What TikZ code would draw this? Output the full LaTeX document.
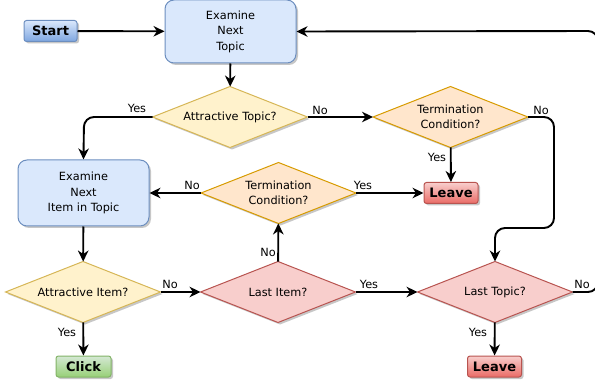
\documentclass[tikz,border=0pt]{standalone}
\usepackage{fontspec}
\setmainfont{DejaVu Sans}
\usetikzlibrary{arrows.meta,shapes.geometric,shadows}
\definecolor{blueF}{HTML}{DAE8FC}
\definecolor{blueS}{HTML}{6C8EBF}
\definecolor{blueG}{HTML}{7EA6E0}
\definecolor{yelF}{HTML}{FFF2CC}
\definecolor{yelS}{HTML}{D6B656}
\definecolor{orF}{HTML}{FFE6CC}
\definecolor{orS}{HTML}{D79B00}
\definecolor{redF}{HTML}{F8CECC}
\definecolor{redS}{HTML}{B85450}
\definecolor{redG}{HTML}{EA6B66}
\definecolor{grnF}{HTML}{D5E8D4}
\definecolor{grnS}{HTML}{82B366}
\definecolor{grnG}{HTML}{97D077}
\tikzset{
  shd/.style={drop shadow={shadow xshift=2pt,shadow yshift=-2pt,opacity=0.22,fill=black}},
  procbox/.style={shd,draw=blueS,fill=blueF,rounded corners=9pt,line width=1pt,minimum width=131pt,align=center,font=\fontsize{11.3}{15.5}\selectfont,text=black},
  dec/.style={shd,diamond,draw,line width=1pt,inner sep=0pt,outer sep=0pt,minimum width=155pt,minimum height=61pt,aspect=2.5,align=center,font=\fontsize{11.3}{15.5}\selectfont,text=black},
  decY/.style={dec,draw=yelS,fill=yelF},
  decO/.style={dec,draw=orS,fill=orF},
  decR/.style={dec,draw=redS,fill=redF},
  term/.style={shd,rounded corners=2.5pt,line width=1pt,minimum height=21pt,inner sep=0pt,font=\fontsize{13}{15}\selectfont\bfseries},
  termB/.style={term,draw=blueS,top color=blueF,bottom color=blueG,minimum width=53pt},
  termR/.style={term,draw=redS,top color=redF,bottom color=redG,minimum width=54pt},
  termG/.style={term,draw=grnS,top color=grnF,bottom color=grnG,minimum width=55pt},
  conn/.style={line width=1.9pt,-{Stealth[length=11pt,width=10.5pt,inset=3.5pt]},rounded corners=10pt},
  lbl/.style={font=\fontsize{11.3}{13}\selectfont,text=black,inner sep=0pt}
}
\begin{document}
\begin{tikzpicture}[x=1pt,y=-1pt]
\useasboundingbox (0,0) rectangle (595,385);
\clip (0,0) rectangle (595,385);
% nodes
\node[termB] (start) at (50.5,31) {Start};
\node[procbox,minimum height=63pt] (ent) at (230.5,31.5) {Examine\\Next\\Topic};
\node[decY] (at) at (230,117) {Attractive Topic?};
\node[decO] (tc1) at (450.5,117) {Termination\\Condition?};
\node[termR] (lv1) at (451,193) {Leave};
\node[procbox,minimum height=66pt] (eni) at (83.5,193) {Examine\\Next\\Item in Topic};
\node[decO] (tc2) at (278.5,193) {Termination\\Condition?};
\node[decY] (ai) at (83,292) {Attractive Item?};
\node[decR] (li) at (278,292) {Last Item?};
\node[decR] (lt) at (495,292) {Last Topic?};
\node[termG] (clk) at (83.5,366.5) {Click};
\node[termR] (lv2) at (494.5,366.5) {Leave};
\coordinate (c1) at (554,117);
\coordinate (c2) at (554,228);
\coordinate (c3) at (495,228);
\coordinate (c4) at (598,292);
\coordinate (c5) at (598,31);
\coordinate (c6) at (84,117);
% connectors
\draw[conn] (start) -- (ent);
\draw[conn] (ent) -- (at);
\draw[conn] (at.west) -- (c6) -- (eni.north);
\draw[conn] (at.east) -- (tc1.west);
\draw[conn] (tc1) -- (lv1);
\draw[conn] (tc1.east) -- (c1) -- (c2) -- (c3) -- (lt.north);
\draw[conn] (tc2.west) -- (eni.east);
\draw[conn] (tc2.east) -- (lv1.west);
\draw[conn] (eni) -- (ai);
\draw[conn] (ai.east) -- (li.west);
\draw[conn] (li) -- (tc2);
\draw[conn] (li.east) -- (lt.west);
\draw[conn] (ai) -- (clk);
\draw[conn] (lt) -- (lv2);
\draw[conn] (lt.east) -- (c4) -- (c5) -- (ent.east);
% labels
\node[lbl] (y1) at (137,108) {Yes};
\node[lbl] (n1) at (320,110) {No};
\node[lbl] (n2) at (541,110) {No};
\node[lbl] (y2) at (437,157) {Yes};
\node[lbl] (n3) at (192,185) {No};
\node[lbl] (y3) at (363,185) {Yes};
\node[lbl] (n4) at (268,252) {No};
\node[lbl] (n5) at (170,284) {No};
\node[lbl] (y4) at (67,332) {Yes};
\node[lbl] (y5) at (369,284) {Yes};
\node[lbl] (n6) at (582,284) {No};
\node[lbl] (y6) at (478,332) {Yes};
\end{tikzpicture}
\end{document}
